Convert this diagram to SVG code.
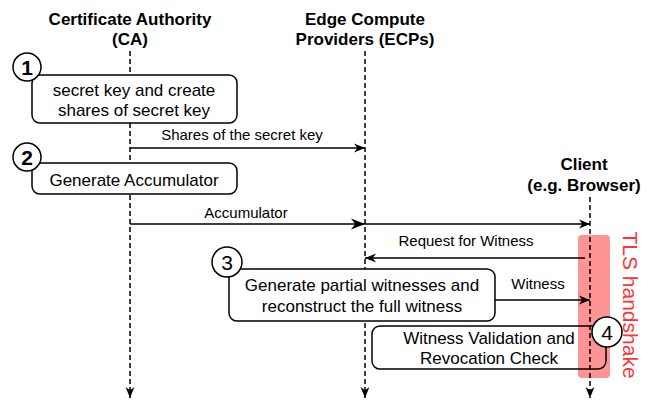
<svg xmlns="http://www.w3.org/2000/svg" width="654" height="402" viewBox="0 0 654 402">
<defs>
<style>
text{font-family:"Liberation Sans",Arial,sans-serif;fill:#000}
.title{font-size:17px;font-weight:bold;text-anchor:middle}
.box{fill:#fff;stroke:#000;stroke-width:1.5}
.boxt{font-size:17px;text-anchor:middle}
.lbl{font-size:15px;text-anchor:middle}
.num{fill:#fff;stroke:#000;stroke-width:1.5}
.numt{font-size:21px;text-anchor:middle}
.life{stroke:#000;stroke-width:1.5;stroke-dasharray:5 3;fill:none}
.msg{stroke:#000;stroke-width:1.5;fill:none}
</style>
<marker id="ah" viewBox="0 0 10 10" refX="10" refY="5" markerWidth="11" markerHeight="11" markerUnits="userSpaceOnUse" orient="auto">
<path d="M0,1 L10,5 L0,9 L3,5 z" fill="#000"/>
</marker>
<marker id="ahL" viewBox="0 0 10 10" refX="10" refY="5" markerWidth="14" markerHeight="14" markerUnits="userSpaceOnUse" orient="auto">
<path d="M0,1 L10,5 L0,9 L3,5 z" fill="#000"/>
</marker>
</defs>
<rect width="654" height="402" fill="#fff"/>

<g id="tls">
<rect x="578" y="235" width="32" height="143" rx="4" fill="#ff9494"/>
<text transform="translate(623,305) rotate(90)" style="font-size:21px;fill:#ff3333;text-anchor:middle">TLS handshake</text>
</g>

<g id="ca">
<text class="title" x="130" y="25">Certificate Authority</text>
<text class="title" x="130" y="45">(CA)</text>
</g>
<g id="ecp">
<text class="title" x="365" y="25">Edge Compute</text>
<text class="title" x="365" y="45">Providers (ECPs)</text>
</g>
<g id="client">
<text class="title" x="584" y="170">Client</text>
<text class="title" x="584" y="191">(e.g. Browser)</text>
</g>

<g id="connectors">
<line class="life" x1="130" y1="51" x2="130" y2="398" marker-end="url(#ah)"/>
<line class="life" x1="365" y1="51" x2="365" y2="398" marker-end="url(#ah)"/>
<line class="life" x1="590" y1="197" x2="590" y2="398" marker-end="url(#ah)"/>
<line class="msg" x1="130" y1="148" x2="365" y2="148" marker-end="url(#ah)"/>
<text class="lbl" x="242" y="140">Shares of the secret key</text>
<line class="msg" x1="130" y1="224" x2="365" y2="224" marker-end="url(#ahL)"/>
<text class="lbl" x="246" y="218">Accumulator</text>
<line class="msg" x1="365" y1="224" x2="590" y2="224" marker-end="url(#ah)"/>
<line class="msg" x1="585" y1="258" x2="365" y2="258" marker-end="url(#ah)"/>
<text class="lbl" x="466" y="246">Request for Witness</text>
<line class="msg" x1="495" y1="300" x2="590" y2="300" marker-end="url(#ah)"/>
<text class="lbl" x="538" y="289">Witness</text>
</g>

<g id="step1">
<rect class="box" x="32" y="75" width="205" height="48" rx="8"/>
<text class="boxt" x="134" y="96">secret key and create</text>
<text class="boxt" x="134" y="116">shares of secret key</text>
<circle class="num" cx="27" cy="67" r="14"/>
<text class="numt" x="27" y="75" style="font-weight:bold">1</text>
</g>
<g id="step2">
<rect class="box" x="32" y="163" width="205" height="31" rx="8"/>
<text class="boxt" x="134" y="186">Generate Accumulator</text>
<circle class="num" cx="27" cy="157" r="14"/>
<text class="numt" x="27" y="165" style="font-weight:bold">2</text>
</g>
<g id="step3">
<rect class="box" x="229" y="269" width="266" height="52" rx="8"/>
<text class="boxt" x="362" y="291">Generate partial witnesses and</text>
<text class="boxt" x="362" y="312">reconstruct the full witness</text>
<circle class="num" cx="227" cy="262" r="15"/>
<text class="numt" x="227" y="270">3</text>
</g>
<g id="step4">
<rect x="372" y="326" width="234" height="43" rx="8" fill="none" stroke="#000" stroke-width="1.5"/>
<text class="boxt" x="489" y="344">Witness Validation and</text>
<text class="boxt" x="489" y="364">Revocation Check</text>
<circle class="num" cx="607" cy="332" r="15"/>
<text class="numt" x="607" y="340">4</text>
</g>
</svg>
